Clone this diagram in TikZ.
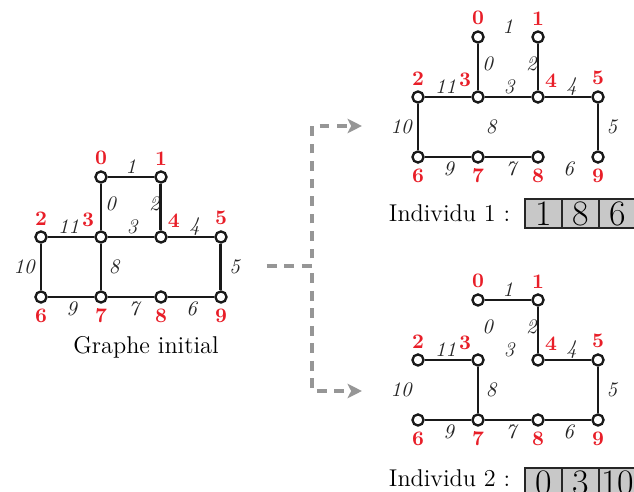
\documentclass[tikz,border=0pt]{standalone}
\usetikzlibrary{positioning,arrows.meta}

\definecolor{rougeNum}{RGB}{232,30,40}
\definecolor{grisFleche}{RGB}{150,150,150}
\definecolor{grisCase}{RGB}{200,200,200}

% sommets + etiquettes communs aux trois graphes (#1 = prefixe des noms)
\newcommand{\grapheBase}[1]{%
    \foreach \n/\x/\y/\a in {0/1/1/90, 1/2/1/90, 2/0/0/90, 3/1/0/125, 4/2/0/55,
                             5/3/0/90, 6/0/-1/-90, 7/1/-1/-90, 8/2/-1/-90, 9/3/-1/-90}
        \node[sommet, label={[rouge]\a:\n}] (#1\n) at (\x,\y) {};
    \foreach \t/\x/\y in {0/1.16/0.56, 1/1.5/1.17, 2/1.89/0.56, 3/1.52/0.17,
                          4/2.56/0.17, 5/3.23/-0.5, 6/2.51/-1.2, 7/1.55/-1.2,
                          8/1.22/-0.5, 9/0.51/-1.2, 10/-0.28/-0.5, 11/0.46/0.18}
        \node[arete] (#1e\t) at (\x,\y) {\t};
}

\begin{document}
\begin{tikzpicture}[
        sommet/.style={circle, draw=black!90, line width=1.1pt, fill=white, inner sep=0pt, minimum size=0.185cm},
        rouge/.style={text=rougeNum, font=\fontsize{9.8}{11}\selectfont\bfseries, inner sep=0pt, label distance=0.08cm},
        arete/.style={text=black!85, font=\fontsize{9.8}{11}\selectfont\itshape, inner sep=0pt},
        lien/.style={draw=black!90, line width=1.4pt},
        fleche/.style={draw=grisFleche, line width=1.8pt, dash pattern=on 4.7pt off 3.6pt, -{Stealth[length=2.4mm, width=2.4mm, inset=0.6mm]}},
        case/.style={draw=black!85, line width=0.9pt, fill=grisCase, minimum width=0.617cm, minimum height=0.483cm,
                     inner sep=0pt, outer sep=0pt, font=\fontsize{17}{19}\selectfont},
        texte/.style={font=\fontsize{11.5}{13}\selectfont}
    ]
    \useasboundingbox (0,0) rectangle (10.567,-8.2);

    % ==========================================
    % GRAPHE INITIAL
    % ==========================================
    \begin{scope}[shift={(0.683,-3.95)}]
        \grapheBase{g}
        \draw[lien] (g0) -- (g3);
        \draw[lien] (g0) -- (g1);
        \draw[lien] (g1) -- (g4);
        \draw[lien] (g3) -- (g4);
        \draw[lien] (g4) -- (g5);
        \draw[lien] (g5) -- (g9);
        \draw[lien] (g8) -- (g9);
        \draw[lien] (g7) -- (g8);
        \draw[lien] (g3) -- (g7);
        \draw[lien] (g6) -- (g7);
        \draw[lien] (g2) -- (g6);
        \draw[lien] (g2) -- (g3);
    \end{scope}
    \node[texte] (titre) at (2.433,-5.783) {Graphe initial};

    % ==========================================
    % INDIVIDU 1 : aretes 1, 8, 6 retirees
    % ==========================================
    \begin{scope}[shift={(6.967,-1.617)}]
        \grapheBase{a}
        \draw[lien] (a0) -- (a3);
        \draw[lien] (a1) -- (a4);
        \draw[lien] (a3) -- (a4);
        \draw[lien] (a4) -- (a5);
        \draw[lien] (a5) -- (a9);
        \draw[lien] (a7) -- (a8);
        \draw[lien] (a6) -- (a7);
        \draw[lien] (a2) -- (a6);
        \draw[lien] (a2) -- (a3);
    \end{scope}
    \node[case] (c1a) at (9.058,-3.558) {1};
    \node[case, right=0pt of c1a] (c1b) {8};
    \node[case, right=0pt of c1b] (c1c) {6};
    \node[texte, left=0.12cm of c1a] (ind1) {Individu 1 :};

    % ==========================================
    % INDIVIDU 2 : aretes 0, 3, 10 retirees
    % ==========================================
    \begin{scope}[shift={(6.967,-6.0)}]
        \grapheBase{b}
        \draw[lien] (b0) -- (b1);
        \draw[lien] (b1) -- (b4);
        \draw[lien] (b4) -- (b5);
        \draw[lien] (b5) -- (b9);
        \draw[lien] (b8) -- (b9);
        \draw[lien] (b7) -- (b8);
        \draw[lien] (b3) -- (b7);
        \draw[lien] (b6) -- (b7);
        \draw[lien] (b2) -- (b3);
    \end{scope}
    \node[case] (c2a) at (9.058,-8.042) {0};
    \node[case, right=0pt of c2a] (c2b) {3};
    \node[case, right=0pt of c2b] (c2c) {10};
    \node[texte, left=0.12cm of c2a, yshift=0.07cm] (ind2) {Individu 2 :};

    % fleches en pointilles
    \coordinate (depart) at (4.45,-4.433);
    \coordinate (fourche) at (5.2,-4.433);
    \coordinate (cible1) at (6.033,-2.1);
    \coordinate (cible2) at (6.033,-6.517);
    \draw[fleche] (depart) -- (fourche) |- (cible1);
    \draw[fleche] (depart) -- (fourche) |- (cible2);

\end{tikzpicture}
\end{document}
